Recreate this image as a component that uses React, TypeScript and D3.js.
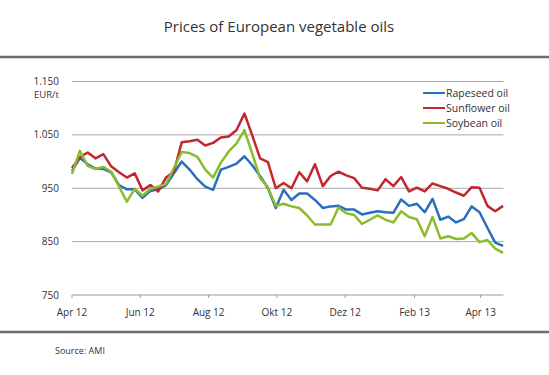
import React from "react";
import * as d3 from "d3";

const startDate = "2012-04-01";
const rapeseed = [982, 1007, 995, 987, 986, 980, 956, 948, 948, 932, 945, 948, 956, 978, 1000, 985, 967, 953, 947, 985, 990, 996, 1010, 993, 973, 950, 913, 947, 928, 940, 940, 928, 913, 916, 917, 910, 910, 901, 904, 907, 905, 904, 929, 917, 921, 905, 930, 891, 897, 886, 892, 916, 905, 876, 848, 842];
const sunflower = [988, 1008, 1017, 1006, 1014, 991, 980, 970, 978, 946, 956, 944, 970, 981, 1036, 1038, 1041, 1030, 1035, 1045, 1047, 1059, 1090, 1049, 1006, 999, 950, 960, 950, 980, 963, 995, 954, 973, 981, 974, 969, 951, 949, 946, 967, 954, 971, 944, 951, 944, 959, 954, 949, 942, 936, 952, 951, 917, 907, 917];
const soybean = [977, 1020, 992, 986, 990, 981, 953, 925, 949, 936, 949, 953, 958, 988, 1018, 1016, 1009, 985, 970, 998, 1019, 1034, 1059, 1015, 969, 952, 917, 921, 916, 913, 899, 882, 882, 882, 914, 903, 900, 883, 891, 899, 891, 886, 907, 896, 892, 860, 896, 856, 860, 855, 856, 866, 849, 853, 837, 829];
const seriesNames = ["Rapeseed oil", "Sunflower oil", "Soybean oil"];
const seriesColors = ["#2a6fbd", "#c1272d", "#8cbb2c"];
const yTicks = [750, 850, 950, 1050, 1150];
const yTickLabels = ["750", "850", "950", "1.050", "1.150"];
const xTickDates = ["2012-04-01", "2012-06-01", "2012-08-01", "2012-10-01", "2012-12-01", "2013-02-01", "2013-04-01"];
const xTickLabels = ["Apr 12", "Jun 12", "Aug 12", "Okt 12", "Dez 12", "Feb 13", "Apr 13"];

const parse = d3.utcParse("%Y-%m-%d");
const FONT = "'Open Sans', 'Noto Sans', sans-serif";

export default function App() {
  const W = 549, H = 375;
  const start = parse(startDate)!;
  const x = d3.scaleUtc().domain([start, d3.utcDay.offset(start, 387)]).range([72, 505.3]);
  const y = d3.scaleLinear().domain([750, 1150]).range([295, 81.5]);
  const dates = rapeseed.map((_, i) => d3.utcWeek.offset(start, i));
  const line = d3.line<number>().x((_, i) => x(dates[i])).y((d) => y(d));
  const all = [rapeseed, sunflower, soybean];
  const drawOrder = [0, 1, 2];
  const gridRight = 503.5;
  return (
    <svg width={W} height={H} style={{ position: "absolute", left: 0, top: 0 }} fontFamily={FONT}>
      <rect width={W} height={H} fill="#fff" />
      <text x={279} y={32} textAnchor="middle" fontSize={15} fill="#333">Prices of European vegetable oils</text>
      <line x1={0} x2={W} y1={57} y2={57} stroke="#6e6e6e" strokeWidth={2.5} />
      {yTicks.map((t, i) => (
        <g key={t}>
          {t !== 750 && <line x1={72} x2={gridRight} y1={y(t)} y2={y(t)} stroke="#a8a8a8" strokeWidth={1} />}
          <text x={59} y={y(t) + 3.5} textAnchor="end" fontSize={10} fill="#333">{yTickLabels[i]}</text>
        </g>
      ))}
      <text x={34} y={97.5} fontSize={9.5} fill="#333">EUR/t</text>
      <line x1={72} x2={gridRight} y1={295} y2={295} stroke="#999" strokeWidth={1} />
      {xTickDates.map((d, i) => {
        const xx = x(parse(d)!);
        return (
          <g key={d}>
            <line x1={xx} x2={xx} y1={295} y2={298} stroke="#999" strokeWidth={1} />
            <text x={xx} y={316} textAnchor="middle" fontSize={10} fill="#333">{xTickLabels[i]}</text>
          </g>
        );
      })}
      {drawOrder.map((k) => (
        <path key={k} d={line(all[k]) || ""} fill="none" stroke={seriesColors[k]} strokeWidth={2.5} strokeLinejoin="round" />
      ))}
      {seriesNames.map((n, i) => (
        <g key={n}>
          <line x1={423} x2={445} y1={93 + i * 15} y2={93 + i * 15} stroke={seriesColors[i]} strokeWidth={2} />
          <text x={446} y={93 + i * 15 + 3.5} fontSize={10.5} fill="#333">{n}</text>
        </g>
      ))}
      <line x1={0} x2={W} y1={332} y2={332} stroke="#6e6e6e" strokeWidth={2.5} />
      <text x={55} y={354} fontSize={9} fill="#333">Source: AMI</text>
    </svg>
  );
}
